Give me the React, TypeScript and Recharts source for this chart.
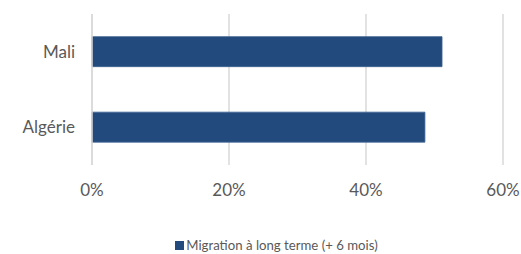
import React from 'react'
import { BarChart, Bar, XAxis, YAxis, CartesianGrid, Legend } from 'recharts'

const countries = ['Mali', 'Algérie']
const longTermShare = [0.511, 0.486]
const xTicks = [0, 0.2, 0.4, 0.6]
const seriesName = 'Migration à long terme (+ 6 mois)'

const data = countries.map((name, i) => ({ name, value: longTermShare[i] }))

const font = 'Lato, "Open Sans", sans-serif'
const textColor = '#595959'
const barColor = '#234a7c'

const LegendContent = () => (
  <div
    style={{
      height: 30,
      display: 'flex',
      justifyContent: 'center',
      alignItems: 'center',
      paddingTop: 12,
      paddingLeft: 50,
      boxSizing: 'border-box',
      fontFamily: font,
      fontSize: 13.2,
      color: textColor,
    }}
  >
    <span style={{ width: 9, height: 9, background: barColor, marginRight: 2, display: 'inline-block' }} />
    <span>{seriesName}</span>
  </div>
)

export default function App() {
  return (
    <div style={{ position: 'absolute', left: 0, top: 0, background: '#fff' }}>
      <BarChart
        width={521}
        height={254}
        data={data}
        layout="vertical"
        margin={{ top: 14, right: 18, bottom: 0, left: 0 }}
        barCategoryGap="30%"
      >
        <CartesianGrid horizontal={false} stroke="#d9d9d9" strokeWidth={1.5} />
        <XAxis
          type="number"
          domain={[0, 0.6]}
          ticks={xTicks}
          tickFormatter={(v: number) => `${Math.round(v * 100)}%`}
          axisLine={false}
          tickLine={false}
          tickMargin={13}
          height={59}
          interval={0}
          tick={{ fill: textColor, fontSize: 17, fontFamily: font }}
        />
        <YAxis
          type="category"
          dataKey="name"
          width={92}
          axisLine={{ stroke: '#d9d9d9', strokeWidth: 1.5 }}
          tickLine={false}
          tickMargin={11}
          tick={{ fill: textColor, fontSize: 17, fontFamily: font }}
        />
        <Legend verticalAlign="bottom" content={<LegendContent />} />
        <Bar dataKey="value" name={seriesName} fill={barColor} stroke="#3d6391" strokeWidth={0.8} isAnimationActive={false} />
      </BarChart>
    </div>
  )
}
